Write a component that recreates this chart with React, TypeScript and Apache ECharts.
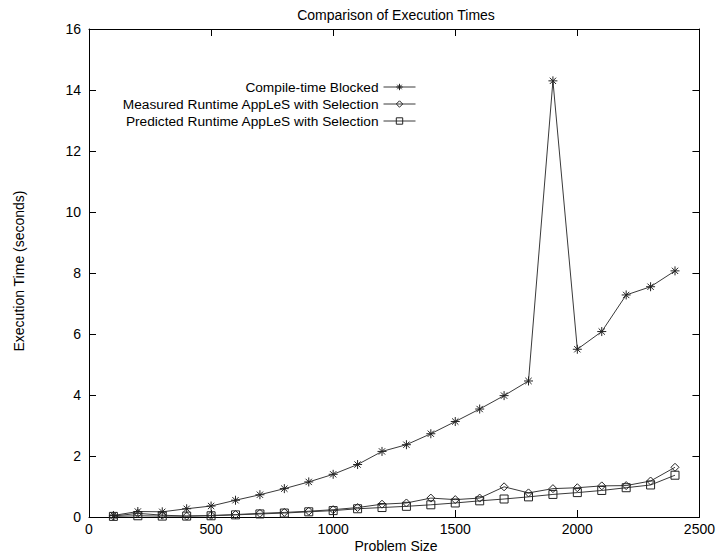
import React, { useEffect, useRef } from "react";
import * as echarts from "echarts";

const problemSizes = [100, 200, 300, 400, 500, 600, 700, 800, 900, 1000, 1100, 1200, 1300, 1400, 1500, 1600, 1700, 1800, 1900, 2000, 2100, 2200, 2300, 2400];
const compileTimeBlocked = [0.05, 0.18, 0.17, 0.27, 0.36, 0.55, 0.73, 0.93, 1.15, 1.4, 1.72, 2.15, 2.37, 2.73, 3.13, 3.54, 3.98, 4.46, 14.3, 5.5, 6.08, 7.28, 7.55, 8.07];
const measuredRuntime = [0.03, 0.12, 0.06, 0.03, 0.05, 0.08, 0.12, 0.15, 0.19, 0.24, 0.31, 0.42, 0.46, 0.62, 0.57, 0.62, 0.99, 0.79, 0.93, 0.96, 1.02, 1.03, 1.18, 1.63];
const predictedRuntime = [0.02, 0.04, 0.03, 0.03, 0.04, 0.07, 0.1, 0.13, 0.17, 0.21, 0.27, 0.31, 0.35, 0.4, 0.46, 0.53, 0.59, 0.66, 0.74, 0.8, 0.87, 0.96, 1.05, 1.37];
const seriesNames = ["Compile-time Blocked", "Measured Runtime AppLeS with Selection", "Predicted Runtime AppLeS with Selection"];
const xTicks = { min: 0, max: 2500, interval: 500 };
const yTicks = { min: 0, max: 16, interval: 2 };

const FONT = "'Liberation Sans', Arial, Helvetica, sans-serif";
const ASTERISK = "path://M0,5L10,5M5,0L5,10M1.5,1.5L8.5,8.5M1.5,8.5L8.5,1.5";

export default function App() {
  const ref = useRef<HTMLDivElement>(null);
  useEffect(() => {
    document.body.style.margin = "0";
    const chart = echarts.init(ref.current!, null, { renderer: "svg" });
    const pairs = (ys: number[]) => problemSizes.map((x, i) => [x, ys[i]]);
    const axisCommon = {
      axisLine: { show: true, onZero: false, lineStyle: { color: "#000", width: 1 } },
      axisTick: { show: true, inside: true, length: 7, lineStyle: { color: "#000" } },
      splitLine: { show: false },
    };
    const mkSeries = (name: string, ys: number[], symbol: string, size: number) => ({
      name,
      type: "line",
      data: pairs(ys),
      symbol,
      symbolSize: size,
      showSymbol: true,
      lineStyle: { color: "#3a3a3a", width: 1 },
      itemStyle: { color: "rgba(0,0,0,0)", borderColor: "#222", borderWidth: 1 },
      emphasis: { disabled: true },
    });
    chart.setOption({
      animation: false,
      textStyle: { fontFamily: FONT },
      grid: { left: 89, right: 15, top: 29, bottom: 42, containLabel: false },
      xAxis: [
        {
          type: "value", position: "bottom", ...xTicks, ...axisCommon,
          axisLabel: { color: "#000", fontSize: 14, margin: 5, fontFamily: FONT, formatter: (v: number) => String(v) },
        },
        {
          type: "value", position: "top", ...xTicks, ...axisCommon,
          axisLabel: { show: false },
        },
      ],
      yAxis: [
        {
          type: "value", position: "left", ...yTicks, ...axisCommon,
          axisLabel: { color: "#000", fontSize: 14, margin: 8, fontFamily: FONT, formatter: (v: number) => String(v) },
        },
        {
          type: "value", position: "right", ...yTicks, ...axisCommon,
          axisLabel: { show: false },
        },
      ],
      legend: {
        orient: "vertical",
        align: "right",
        right: 297,
        top: 75,
        itemGap: 3,
        itemWidth: 32,
        itemHeight: 8,
        textStyle: { color: "#000", fontSize: 13.7, fontFamily: FONT },
        itemStyle: { color: "rgba(0,0,0,0)", borderColor: "#222", borderWidth: 1 },
        lineStyle: { color: "#3a3a3a", width: 1 },
        data: seriesNames,
        selectedMode: false,
      },
      graphic: [
        {
          type: "text", x: 396, y: 15,
          style: { text: "Comparison of Execution Times", fontSize: 14, fontFamily: FONT, fill: "#000", align: "center", verticalAlign: "middle" },
        },
        {
          type: "text", x: 396, y: 546,
          style: { text: "Problem Size", fontSize: 14, fontFamily: FONT, fill: "#000", align: "center", verticalAlign: "middle" },
        },
        {
          type: "text", x: 19, y: 271, rotation: Math.PI / 2,
          style: { text: "Execution Time (seconds)", fontSize: 14, fontFamily: FONT, fill: "#000", align: "center", verticalAlign: "middle" },
        },
      ],
      series: [
        mkSeries(seriesNames[0], compileTimeBlocked, ASTERISK, 9),
        mkSeries(seriesNames[1], measuredRuntime, "diamond", 8),
        mkSeries(seriesNames[2], predictedRuntime, "rect", 8),
      ],
    });
    return () => chart.dispose();
  }, []);
  return <div ref={ref} style={{ width: 718, height: 559 }} />;
}
